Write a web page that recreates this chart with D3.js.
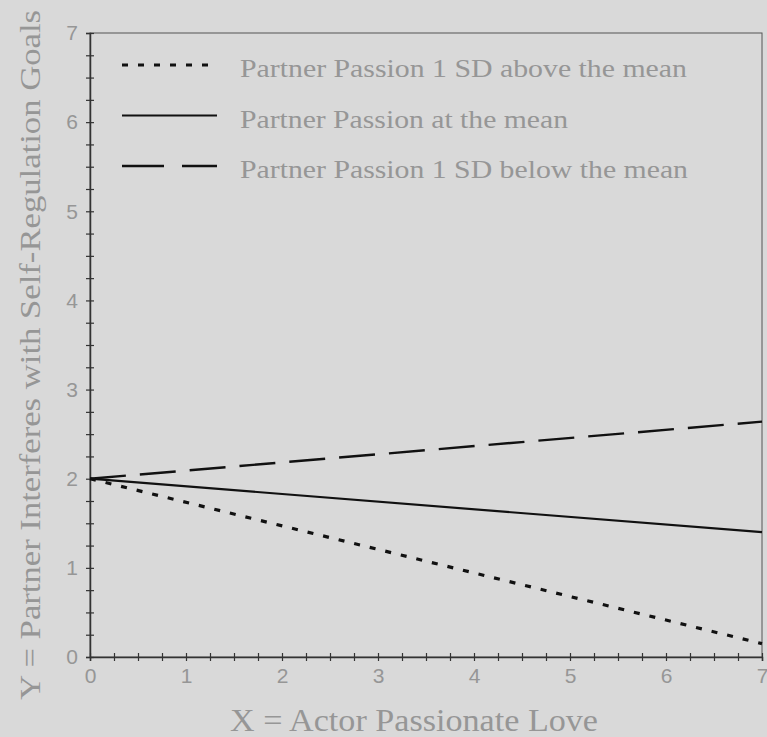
<!DOCTYPE html>
<html>
<head>
<meta charset="utf-8">
<script src="https://cdn.jsdelivr.net/npm/d3@7"></script>
<style>
	body { margin: 0; background: #d9d9d9; }
	svg { display: block; }
</style>
</head>
<body>
<script>
// data
var xValues = [0, 7];
var seriesNames = [
	'Partner Passion 1 SD above the mean',
	'Partner Passion at the mean',
	'Partner Passion 1 SD below the mean'
];
var aboveValues = [2.0, 0.15];
var meanValues = [2.0, 1.40];
var belowValues = [2.0, 2.64];
var xTitle = 'X = Actor Passionate Love';
var yTitle = 'Y = Partner Interferes with Self-Regulation Goals';

// chart
var W = 767, H = 737;
var margin = { top: 33, right: 5, bottom: 80, left: 90 };
var width = W - margin.left - margin.right;
var height = H - margin.top - margin.bottom;

var textColor = '#969696';

var svg = d3.select('body')
	.append('svg')
	.attr('width', W)
	.attr('height', H);

svg.append('rect')
	.attr('width', W)
	.attr('height', H)
	.attr('fill', '#d9d9d9');

var g = svg.append('g')
	.attr('transform', 'translate(' + margin.left + ',' + margin.top + ')');

var x = d3.scaleLinear().domain([0, 7]).range([0, width]);
var y = d3.scaleLinear().domain([0, 7]).range([height, 0]);

var minor = d3.range(0, 7.001, 0.25);

// frame
g.append('rect')
	.attr('width', width)
	.attr('height', height)
	.attr('fill', 'none')
	.attr('stroke', '#555')
	.attr('stroke-width', 1);

// axes
var x_axis = d3.axisBottom(x).tickValues(minor).tickSize(4)
	.tickFormat(function (d) { return d % 1 === 0 ? d : ''; });
var y_axis = d3.axisLeft(y).tickValues(minor).tickSize(4)
	.tickFormat(function (d) { return d % 1 === 0 ? d : ''; });

var gx = g.append('g')
	.attr('transform', 'translate(0,' + height + ')')
	.call(x_axis);
var gy = g.append('g').call(y_axis);

[gx, gy].forEach(function (ax) {
	ax.select('.domain').attr('stroke', '#333').attr('stroke-width', 1.5);
	ax.selectAll('.tick line').attr('stroke', '#333').attr('stroke-width', 1.2);
	ax.selectAll('.tick text')
		.attr('fill', textColor)
		.style('font-family', '"Liberation Sans", Arial, sans-serif')
		.style('font-size', '21px');
});
gx.selectAll('.tick line').attr('y1', -4).attr('y2', 4);
gx.selectAll('.tick text').attr('y', 11);
gy.selectAll('.tick line').attr('x1', 4).attr('x2', -4);
gy.selectAll('.tick text').attr('x', -12);

// lines
var series = [
	{ name: seriesNames[0], values: aboveValues, dash: '6,10', width: 3.2, len: 447 },
	{ name: seriesNames[1], values: meanValues, dash: null, width: 2.2, len: 328 },
	{ name: seriesNames[2], values: belowValues, dash: '36,14', width: 2.4, len: 448 }
];

var line = d3.line()
	.x(function (d) { return x(d[0]); })
	.y(function (d) { return y(d[1]); });

series.forEach(function (s) {
	g.append('path')
		.datum(d3.zip(xValues, s.values))
		.attr('d', line)
		.attr('fill', 'none')
		.attr('stroke', '#111')
		.attr('stroke-width', s.width)
		.attr('stroke-dasharray', s.dash);
});

// legend
var legend = g.selectAll('.legend')
	.data(series)
	.enter()
	.append('g')
	.attr('class', 'legend')
	.attr('transform', function (d, i) { return 'translate(32,' + (32 + i * 50.5) + ')'; });

legend.append('line')
	.attr('x1', 0)
	.attr('x2', 95)
	.attr('stroke', '#111')
	.attr('stroke-width', function (d) { return d.width; })
	.attr('stroke-dasharray', function (d, i) { return i === 2 ? '42,18' : d.dash; });

legend.append('text')
	.attr('x', 118)
	.attr('y', 12)
	.attr('fill', textColor)
	.attr('textLength', function (d) { return d.len; })
	.attr('lengthAdjust', 'spacingAndGlyphs')
	.style('font-family', '"Liberation Serif", "Times New Roman", serif')
	.style('font-size', '26px')
	.text(function (d) { return d.name; });

// titles
svg.append('text')
	.attr('x', 414)
	.attr('y', 731)
	.attr('text-anchor', 'middle')
	.attr('fill', textColor)
	.attr('textLength', 368)
	.attr('lengthAdjust', 'spacingAndGlyphs')
	.style('font-family', '"Liberation Serif", "Times New Roman", serif')
	.style('font-size', '31px')
	.text(xTitle);

svg.append('text')
	.attr('transform', 'translate(40,355) rotate(-90)')
	.attr('text-anchor', 'middle')
	.attr('fill', textColor)
	.attr('textLength', 690)
	.attr('lengthAdjust', 'spacingAndGlyphs')
	.style('font-family', '"Liberation Serif", "Times New Roman", serif')
	.style('font-size', '30px')
	.text(yTitle);
</script>
</body>
</html>
